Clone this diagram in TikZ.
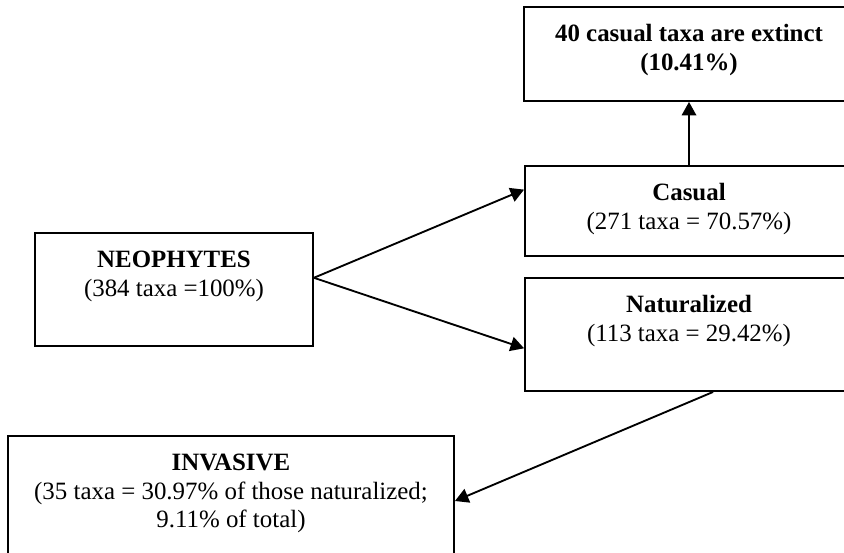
\documentclass[tikz,border=0pt]{standalone}
\usepackage{fontspec}
\setmainfont{Liberation Serif}
\usetikzlibrary{arrows.meta,calc}
\newcommand\pxu{0.482pt}
\begin{document}
\begin{tikzpicture}[x=0.482pt,y=-0.482pt,
  box/.style={draw, line width=0.9pt, inner sep=0pt, rectangle},
  txt/.style={anchor=north, inner sep=0pt, align=center, font=\fontsize{12}{13.8}\selectfont},
  arr/.style={line width=0.9pt, -{Triangle[length=6.5pt,width=7pt]}}]
\clip (0,0) rectangle (844,552);
\node[box, minimum width=330*\pxu, minimum height=94*\pxu] (ext) at (689,54) {};
\node[box, minimum width=328*\pxu, minimum height=90*\pxu] (cas) at (689,211) {};
\node[box, minimum width=328*\pxu, minimum height=113*\pxu] (nat) at (689,334.5) {};
\node[box, minimum width=278*\pxu, minimum height=113*\pxu] (neo) at (174,289.5) {};
\node[box, minimum width=446*\pxu, minimum height=130*\pxu] (inv) at (231,501) {};

\node[txt] (exttext) at (689,20.3) {\rule{0pt}{10pt}\textbf{40 casual taxa are extinct}\\\textbf{(10.41\%)}};
\node[txt] (castext) at (689,179.3) {\rule{0pt}{10pt}\textbf{Casual}\\(271 taxa = 70.57\%)};
\node[txt] (nattext) at (689,291.3) {\rule{0pt}{10pt}\textbf{Naturalized}\\(113 taxa = 29.42\%)};
\node[txt] (neotext) at (174,246.3) {\rule{0pt}{10pt}\textbf{NEOPHYTES}\\(384 taxa =100\%)};
\node[txt] (invtext) at (231,449.3) {\rule{0pt}{10pt}\textbf{INVASIVE}\\(35 taxa = 30.97\% of those naturalized;\\9.11\% of total)};

\coordinate (neoout) at ($(neo.north east)!0.398!(neo.south east)$);
\draw[arr] (neoout) -- ($(cas.north west)!0.267!(cas.south west)$);
\draw[arr] (neoout) -- ($(nat.north west)!0.62!(nat.south west)$);
\draw[arr] (cas.north) -- (ext.south);
\draw[arr] ($(nat.south west)!0.573!(nat.south east)$) -- (inv.east);
\end{tikzpicture}
\end{document}
